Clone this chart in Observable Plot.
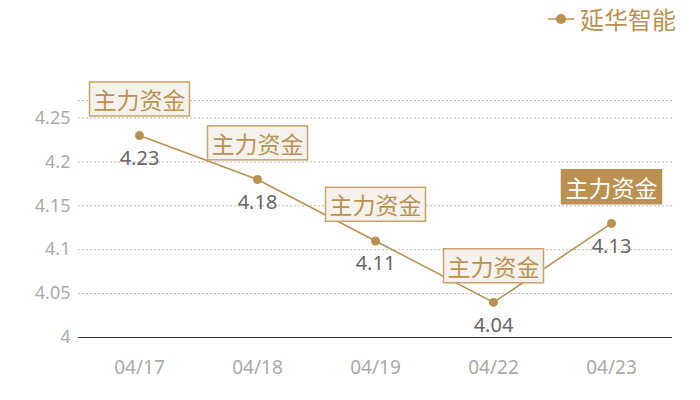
<!DOCTYPE html>
<html>
<head>
<meta charset="utf-8">
<script src="https://cdn.jsdelivr.net/npm/d3@7"></script>
<script src="https://cdn.jsdelivr.net/npm/@observablehq/plot@0.6"></script>
<style>
  html, body { margin: 0; padding: 0; background: #fff; }
  #wrap { position: relative; width: 700px; height: 400px; font-family: "Noto Sans CJK SC", "Noto Sans", sans-serif; }
  #legend { position: absolute; top: 1px; right: 24px; display: flex; align-items: center; color: #bb9151; font-size: 24px; line-height: 36px; font-family: "Noto Sans CJK SC", sans-serif; }
  #legend svg { margin-right: 6px; }
</style>
</head>
<body>
<div id="wrap">
  <div id="legend"></div>
</div>
<script>
const dates = ["04/17", "04/18", "04/19", "04/22", "04/23"];
const prices = [4.23, 4.18, 4.11, 4.04, 4.13];
const tagText = "主力资金";
const seriesName = "延华智能";
const yTicks = [4, 4.05, 4.1, 4.15, 4.2, 4.25];
const gridValues = [4.05, 4.1, 4.15, 4.2, 4.25, 4.27];
const yDomain = [4, 4.27];

const gold = "#bb9151";
const data = dates.map((d, i) => ({date: d, value: prices[i], last: i === dates.length - 1}));

const chart = Plot.plot({
  width: 700,
  height: 400,
  marginLeft: 78,
  marginRight: 28,
  marginTop: 100,
  marginBottom: 63,
  style: {fontFamily: "'Noto Sans', 'Noto Sans CJK SC', sans-serif", background: "transparent"},
  x: {type: "point", domain: dates, padding: 0.5, label: null},
  y: {domain: yDomain, label: null},
  marks: [
    Plot.ruleY(gridValues, {stroke: "#bbb", strokeDasharray: "2,2", strokeWidth: 1}),
    Plot.ruleY([4], {stroke: "#333", strokeWidth: 1.2}),
    Plot.axisY(yTicks, {tickSize: 0, tickPadding: 8, fontSize: 18, fill: "#aaa", tickFormat: d => String(+d.toFixed(2)), label: null}),
    Plot.axisX({tickSize: 0, tickPadding: 23, fontSize: 19, fill: "#aaa", label: null}),
    Plot.line(data, {x: "date", y: "value", stroke: gold, strokeWidth: 1.6}),
    Plot.dot(data, {x: "date", y: "value", r: 4.5, fill: gold}),
    Plot.text(data, {x: "date", y: "value", text: d => d.value.toFixed(2), dy: 23, fontSize: 20, fill: "#666"}),
    Plot.text(data, {x: "date", y: "value", text: () => tagText, dy: -34, fontSize: 23, fontFamily: "'Noto Sans CJK SC', sans-serif", fill: d => d.last ? "#fff" : gold, className: "tag"})
  ]
});

document.getElementById("wrap").appendChild(chart);

// Boxes behind tag labels
chart.querySelectorAll("g.tag").forEach(g => {
  g.querySelectorAll("text").forEach((t, i) => {
    const b = t.getBBox();
    const last = i === data.length - 1;
    const r = document.createElementNS("http://www.w3.org/2000/svg", "rect");
    const w = b.width + 8, h = 34;
    const cx = b.x + b.width / 2, cy = b.y + b.height / 2;
    r.setAttribute("x", cx - w / 2);
    r.setAttribute("y", cy - h / 2);
    r.setAttribute("width", w);
    r.setAttribute("height", h);
    r.setAttribute("fill", last ? gold : "#f5f1ec");
    r.setAttribute("stroke", last ? gold : "#c9a36b");
    r.setAttribute("stroke-width", 1.5);
    if (t.getAttribute("transform")) r.setAttribute("transform", t.getAttribute("transform"));
    g.insertBefore(r, t);
  });
});

// Legend
const legend = document.getElementById("legend");
legend.innerHTML = `<svg width="26" height="14"><line x1="0" y1="7" x2="26" y2="7" stroke="${gold}" stroke-width="1.5"/><circle cx="13" cy="7" r="5" fill="${gold}"/></svg><span>${seriesName}</span>`;
</script>
</body>
</html>
